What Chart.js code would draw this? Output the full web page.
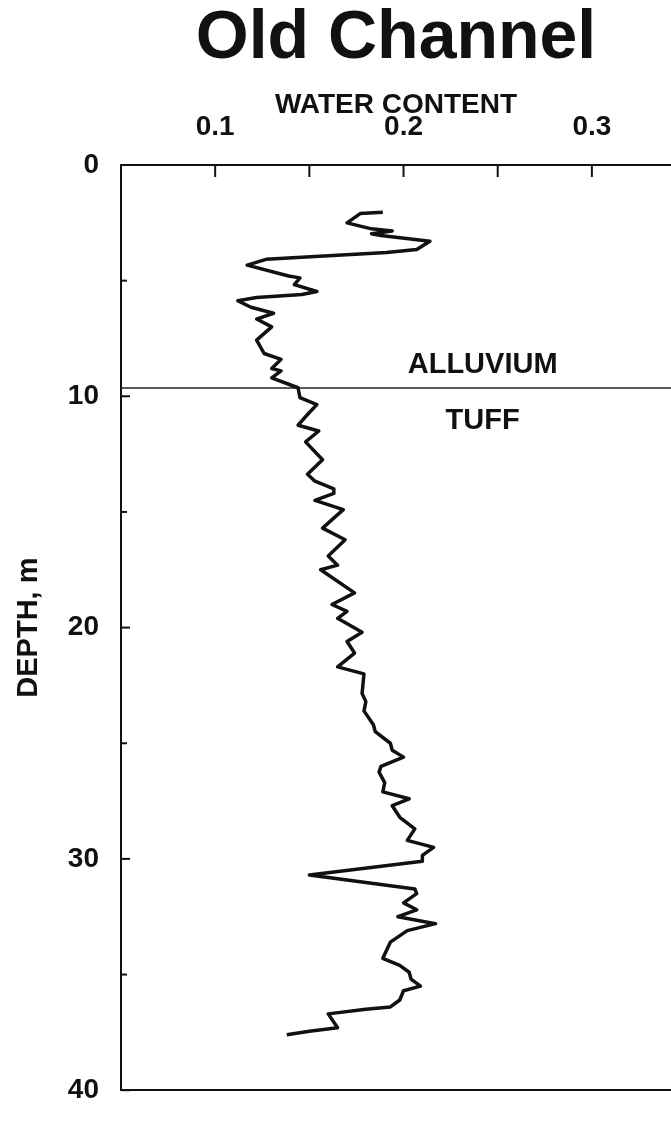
<!DOCTYPE html>
<html>
<head>
<meta charset="utf-8">
<script src="https://cdn.jsdelivr.net/npm/chart.js@4.4.0/dist/chart.umd.min.js"></script>
<style>
  html, body { margin: 0; padding: 0; background: #fff; overflow: hidden; }
</style>
</head>
<body>
<canvas id="profile" width="671" height="1121"></canvas>
<script>
const depths = [2.04, 2.1, 2.5, 2.76, 2.85, 2.97, 3.05, 3.3, 3.65, 3.78, 4.08, 4.33, 4.8, 4.88, 5.17, 5.47, 5.6, 5.73, 5.87, 6.15,
  6.41, 6.66, 7.0, 7.57, 8.15, 8.4, 8.8, 8.9, 9.2, 9.63, 10.06, 10.36, 10.7, 11.25, 11.5, 11.97, 12.74, 13.37, 13.67, 14.0,
  14.2, 14.5, 14.9, 15.7, 16.2, 16.9, 17.3, 17.5, 18.5, 19.0, 19.3, 19.6, 20.2, 20.6, 21.1, 21.7, 22.0, 22.85, 23.2, 23.6,
  24.2, 24.5, 25.0, 25.3, 25.6, 26.0, 26.25, 26.7, 27.1, 27.4, 27.7, 28.2, 28.7, 29.2, 29.5, 29.85, 30.1, 30.7, 31.3, 31.5,
  31.9, 32.2, 32.5, 32.8, 33.1, 33.6, 34.3, 34.6, 34.9, 35.2, 35.5, 35.7, 36.1, 36.4, 36.5, 36.7, 37.3, 37.45, 37.6]
const waterContent = [0.189, 0.177, 0.170, 0.183, 0.194, 0.183, 0.188, 0.214, 0.207, 0.191, 0.127, 0.117, 0.139, 0.145, 0.142, 0.154, 0.146, 0.122, 0.112, 0.119,
  0.131, 0.122, 0.130, 0.122, 0.126, 0.135, 0.130, 0.135, 0.130, 0.144, 0.145, 0.154, 0.150, 0.144, 0.155, 0.148, 0.157, 0.149, 0.153, 0.163,
  0.163, 0.153, 0.168, 0.157, 0.169, 0.160, 0.165, 0.156, 0.174, 0.162, 0.170, 0.165, 0.178, 0.170, 0.174, 0.165, 0.179, 0.178, 0.180, 0.179,
  0.184, 0.185, 0.193, 0.194, 0.200, 0.188, 0.187, 0.190, 0.189, 0.203, 0.194, 0.198, 0.206, 0.202, 0.216, 0.210, 0.210, 0.150, 0.206, 0.207,
  0.200, 0.207, 0.197, 0.217, 0.202, 0.193, 0.189, 0.198, 0.203, 0.204, 0.209, 0.200, 0.198, 0.193, 0.180, 0.160, 0.165, 0.150, 0.138]

const xTicks = [0.1, 0.15, 0.2, 0.25, 0.3]
const xLabelled = [0.1, 0.2, 0.3]
const yTicks = [0, 5, 10, 15, 20, 25, 30, 35, 40]
const yLabelled = [0, 10, 20, 30, 40]

const boundaryDepth = 9.64
const layerNames = ['ALLUVIUM', 'TUFF']
const layerLabelX = [0.242, 0.242]
const layerLabelDepth = [9.0, 11.42]

const xMin = 0.05, xMax = 0.342
const ink = '#111'
const family = '"Liberation Sans", Arial, sans-serif'

Chart.defaults.font.family = family
Chart.defaults.font.weight = 'bold'
Chart.defaults.color = ink

const profilePoints = depths.map((d, i) => ({ x: waterContent[i], y: d }))

// tick marks point into the plot, and the layer names sit on the contact line
const insideTicks = {
  id: 'insideTicks',
  afterDraw(chart) {
    const { ctx, chartArea, scales: { x, y } } = chart
    ctx.save()
    ctx.strokeStyle = ink
    ctx.lineWidth = 2
    x.ticks.forEach(t => {
      const px = x.getPixelForValue(t.value)
      ctx.beginPath(); ctx.moveTo(px, chartArea.top); ctx.lineTo(px, chartArea.top + 12); ctx.stroke()
    })
    y.ticks.forEach(t => {
      const py = y.getPixelForValue(t.value)
      const len = t.value % 10 === 0 ? 9 : 6
      ctx.beginPath(); ctx.moveTo(chartArea.left, py); ctx.lineTo(chartArea.left + len, py); ctx.stroke()
    })
    ctx.fillStyle = ink
    ctx.font = 'bold 29px ' + family
    ctx.textAlign = 'center'
    ctx.textBaseline = 'alphabetic'
    layerNames.forEach((name, i) => {
      ctx.fillText(name, x.getPixelForValue(layerLabelX[i]), y.getPixelForValue(layerLabelDepth[i]))
    })
    ctx.restore()
  }
}

const isIn = (list, v) => list.some(u => Math.abs(u - v) < 1e-6)

new Chart(document.getElementById('profile').getContext('2d'), {
  type: 'scatter',
  data: {
    datasets: [{
      data: profilePoints,
      showLine: true,
      borderColor: ink,
      borderWidth: 3.5,
      borderJoinStyle: 'round',
      pointRadius: 0,
      tension: 0
    }, {
      data: [{ x: xMin, y: boundaryDepth }, { x: xMax, y: boundaryDepth }],
      showLine: true,
      borderColor: '#222',
      borderWidth: 1.5,
      pointRadius: 0
    }]
  },
  options: {
    responsive: false,
    animation: false,
    devicePixelRatio: 1,
    layout: { padding: { top: 5, left: 0, right: 0, bottom: 0 } },
    plugins: {
      legend: { display: false },
      tooltip: { enabled: false },
      title: {
        display: true,
        text: 'Old Channel',
        fullSize: false,
        color: ink,
        font: { size: 68, weight: 'bold', lineHeight: 1 },
        padding: { top: 0, bottom: 0 }
      }
    },
    scales: {
      x: {
        type: 'linear',
        position: 'top',
        min: xMin,
        max: xMax,
        afterBuildTicks: s => { s.ticks = xTicks.map(v => ({ value: v })) },
        afterFit: s => { s.height = 92 },
        ticks: {
          autoSkip: false,
          maxRotation: 0,
          padding: 13,
          font: { size: 28, weight: 'bold' },
          callback: v => isIn(xLabelled, v) ? v.toFixed(1) : ''
        },
        grid: { display: false },
        border: { display: true, color: ink, width: 2 },
        title: {
          display: true,
          text: 'WATER CONTENT',
          font: { size: 28, weight: 'bold', lineHeight: 1 },
          padding: { top: 18, bottom: 0 }
        }
      },
      x2: {
        type: 'linear',
        position: 'bottom',
        min: xMin,
        max: xMax,
        afterFit: s => { s.height = 14 },
        ticks: { display: false },
        grid: { display: false },
        border: { display: true, color: ink, width: 2 }
      },
      y: {
        type: 'linear',
        reverse: true,
        min: 0,
        max: 40,
        afterBuildTicks: s => { s.ticks = yTicks.map(v => ({ value: v })) },
        afterFit: s => { s.width = 121 },
        ticks: {
          autoSkip: false,
          padding: 14,
          font: { size: 28, weight: 'bold' },
          callback: v => isIn(yLabelled, v) ? String(v) : ''
        },
        grid: { display: false },
        border: { display: true, color: ink, width: 2 },
        title: {
          display: true,
          text: 'DEPTH, m',
          font: { size: 29, weight: 'bold', lineHeight: 1 },
          padding: { top: 14, bottom: 0 }
        }
      }
    }
  },
  plugins: [insideTicks]
})
</script>
</body>
</html>
